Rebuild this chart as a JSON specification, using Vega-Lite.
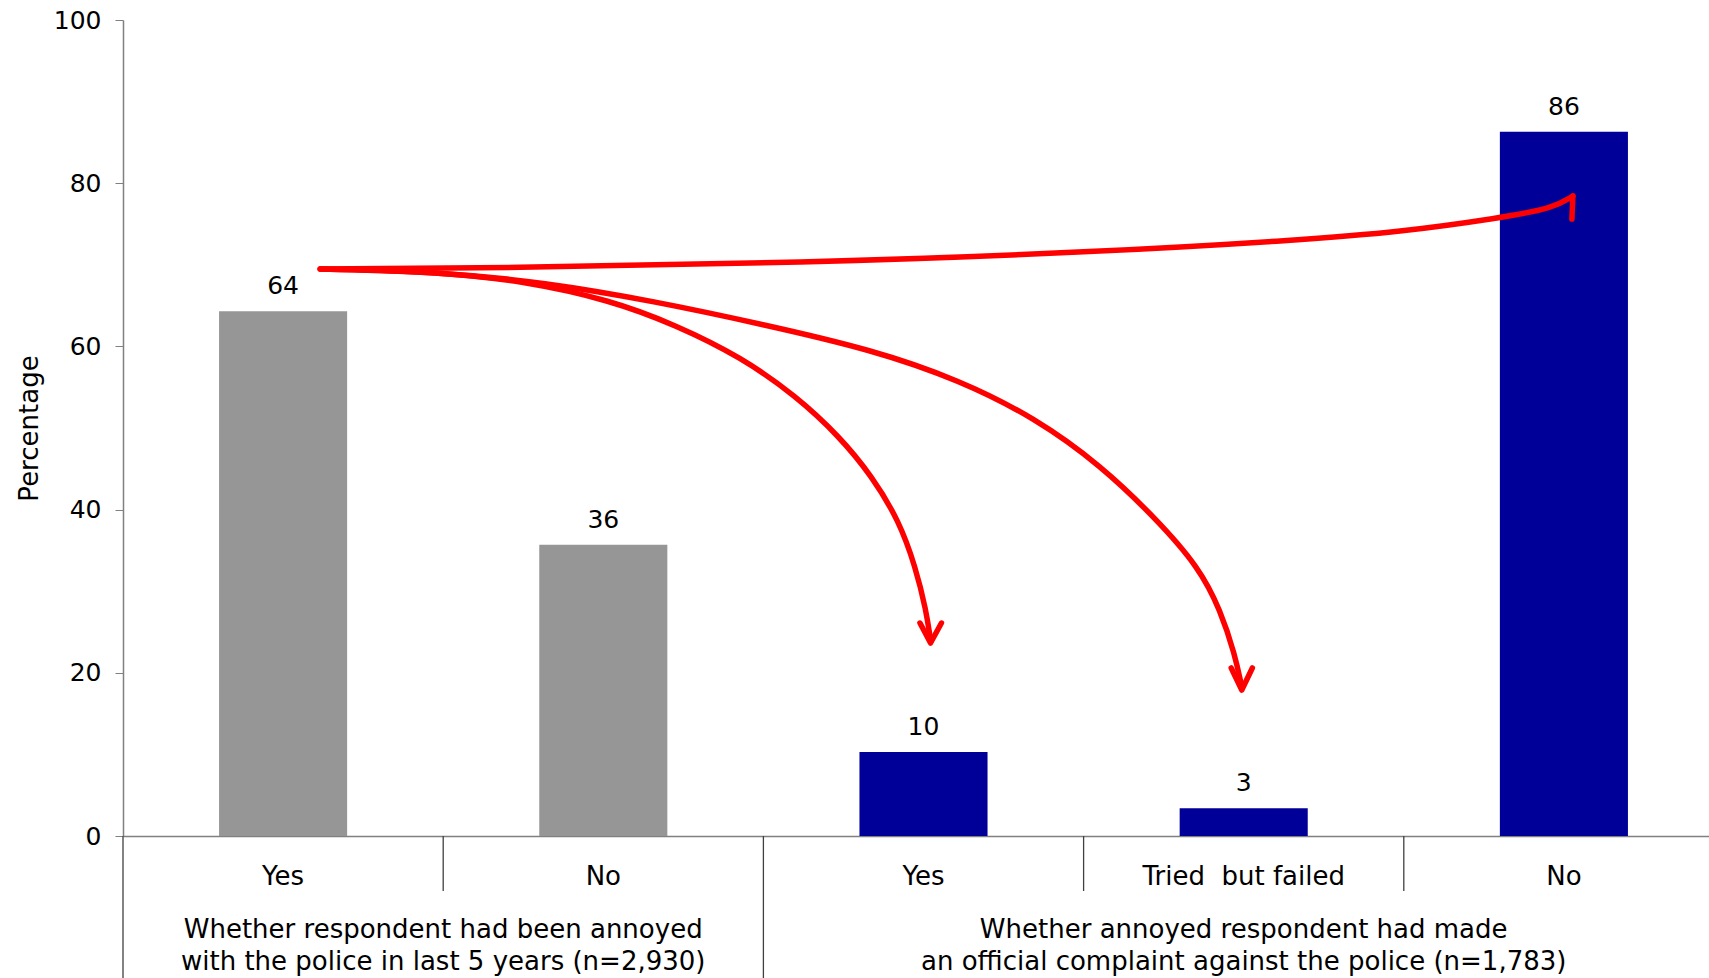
{
  "$schema": "https://vega.github.io/schema/vega-lite/v6.json",
  "width": 1586,
  "height": 816,
  "autosize": {"type": "none"},
  "padding": {"left": 123, "top": 20, "right": 0, "bottom": 142},
  "background": "white",
  "config": {
    "view": {"stroke": null},
    "font": "DejaVu Sans",
    "axis": {"grid": false}
  },
  "datasets": {
    "bars": [
      {"cat": "A|Yes", "group": "annoyed", "value": 64.3},
      {"cat": "A|No", "group": "annoyed", "value": 35.7},
      {"cat": "B|Yes", "group": "complaint", "value": 10.3},
      {"cat": "B|Tried\u00a0 but failed", "group": "complaint", "value": 3.4},
      {"cat": "B|No", "group": "complaint", "value": 86.3}
    ],
    "curves": [
      {"path": "toNo", "i": 0, "pos": 0.616, "value": 69.49},
      {"path": "toNo", "i": 1, "pos": 1.178, "value": 69.61},
      {"path": "toNo", "i": 2, "pos": 2.115, "value": 70.22},
      {"path": "toNo", "i": 3, "pos": 3.051, "value": 71.57},
      {"path": "toNo", "i": 4, "pos": 3.676, "value": 73.04},
      {"path": "toNo", "i": 5, "pos": 3.988, "value": 74.02},
      {"path": "toNo", "i": 6, "pos": 4.300, "value": 75.74},
      {"path": "toNo", "i": 7, "pos": 4.466, "value": 76.92},
      {"path": "toNo", "i": 8, "pos": 4.528, "value": 78.43},
      {"path": "toYes", "i": 0, "pos": 0.616, "value": 69.49},
      {"path": "toYes", "i": 1, "pos": 0.978, "value": 69.18},
      {"path": "toYes", "i": 2, "pos": 1.250, "value": 68.01},
      {"path": "toYes", "i": 3, "pos": 1.521, "value": 65.69},
      {"path": "toYes", "i": 4, "pos": 1.727, "value": 62.62},
      {"path": "toYes", "i": 5, "pos": 1.930, "value": 58.70},
      {"path": "toYes", "i": 6, "pos": 2.102, "value": 53.92},
      {"path": "toYes", "i": 7, "pos": 2.236, "value": 49.02},
      {"path": "toYes", "i": 8, "pos": 2.339, "value": 44.12},
      {"path": "toYes", "i": 9, "pos": 2.424, "value": 38.60},
      {"path": "toYes", "i": 10, "pos": 2.475, "value": 32.97},
      {"path": "toYes", "i": 11, "pos": 2.508, "value": 27.70},
      {"path": "toYes", "i": 12, "pos": 2.522, "value": 24.02},
      {"path": "toTried", "i": 0, "pos": 0.616, "value": 69.49},
      {"path": "toTried", "i": 1, "pos": 0.978, "value": 69.18},
      {"path": "toTried", "i": 2, "pos": 1.318, "value": 67.84},
      {"path": "toTried", "i": 3, "pos": 1.658, "value": 65.55},
      {"path": "toTried", "i": 4, "pos": 1.999, "value": 62.70},
      {"path": "toTried", "i": 5, "pos": 2.339, "value": 59.60},
      {"path": "toTried", "i": 6, "pos": 2.611, "value": 55.90},
      {"path": "toTried", "i": 7, "pos": 2.850, "value": 51.20},
      {"path": "toTried", "i": 8, "pos": 3.054, "value": 45.40},
      {"path": "toTried", "i": 9, "pos": 3.224, "value": 38.98},
      {"path": "toTried", "i": 10, "pos": 3.360, "value": 32.97},
      {"path": "toTried", "i": 11, "pos": 3.428, "value": 27.62},
      {"path": "toTried", "i": 12, "pos": 3.472, "value": 22.28},
      {"path": "toTried", "i": 13, "pos": 3.494, "value": 18.30}
    ],
    "heads": [
      {"path": "headNo", "i": 0, "pos": 4.528, "value": 78.43},
      {"path": "headNo", "i": 1, "pos": 4.525, "value": 75.61},
      {"path": "headYes", "i": 0, "pos": 2.489, "value": 26.10},
      {"path": "headYes", "i": 1, "pos": 2.522, "value": 23.65},
      {"path": "headYes", "i": 2, "pos": 2.556, "value": 26.10},
      {"path": "headTried", "i": 0, "pos": 3.461, "value": 20.59},
      {"path": "headTried", "i": 1, "pos": 3.494, "value": 17.89},
      {"path": "headTried", "i": 2, "pos": 3.527, "value": 20.59}
    ],
    "separators": [
      {"kind": "inner", "pos": 1, "value": 0, "value2": -6.74},
      {"kind": "inner", "pos": 3, "value": 0, "value2": -6.74},
      {"kind": "inner", "pos": 4, "value": 0, "value2": -6.74},
      {"kind": "outer", "pos": 0, "value": 0, "value2": -17.6},
      {"kind": "outer", "pos": 2, "value": 0, "value2": -17.6}
    ],
    "groupLabels": [
      {"pos": 1, "value": -11.52, "text": "Whether respondent had been annoyed"},
      {"pos": 1, "value": -15.44, "text": "with the police in last 5 years (n=2,930)"},
      {"pos": 3.5, "value": -11.52, "text": "Whether annoyed respondent had made"},
      {"pos": 3.5, "value": -15.44, "text": "an official complaint against the police (n=1,783)"}
    ]
  },
  "layer": [
    {
      "data": {"name": "bars"},
      "encoding": {
        "x": {
          "field": "cat",
          "type": "nominal",
          "sort": null,
          "scale": {"range": [0, 1601], "paddingInner": 0.6, "paddingOuter": 0.3},
          "axis": {
            "title": null,
            "ticks": false,
            "labelAngle": 0,
            "labelFontSize": 26,
            "labelLimit": 0,
            "labelColor": "black",
            "labelPadding": 27,
            "domainColor": "#808080",
            "domainWidth": 1.5,
            "labelExpr": "split(datum.value, '|')[1]"
          }
        },
        "y": {
          "field": "value",
          "type": "quantitative",
          "scale": {"domain": [0, 100], "nice": false},
          "axis": {
            "title": "Percentage",
            "values": [0, 20, 40, 60, 80, 100],
            "tickSize": 8,
            "tickColor": "#808080",
            "domainColor": "#808080",
            "domainWidth": 1.5,
            "labelFontSize": 25,
            "labelColor": "black",
            "labelPadding": 14,
            "titleFontSize": 26,
            "titleFontWeight": "normal",
            "titleColor": "black",
            "titlePadding": 11
          }
        }
      },
      "layer": [
        {
          "mark": {"type": "bar"},
          "encoding": {
            "color": {
              "field": "group",
              "type": "nominal",
              "scale": {"domain": ["annoyed", "complaint"], "range": ["#969696", "#000099"]},
              "legend": null
            }
          }
        },
        {
          "mark": {"type": "text", "baseline": "alphabetic", "dy": -17, "fontSize": 25, "color": "black"},
          "encoding": {
            "text": {"field": "value", "type": "quantitative", "format": ".0f"}
          }
        }
      ]
    },
    {
      "encoding": {
        "x": {
          "field": "pos",
          "type": "quantitative",
          "scale": {"domain": [0, 5], "range": [0, 1601], "nice": false, "zero": false},
          "axis": null
        },
        "y": {
          "field": "value",
          "type": "quantitative",
          "scale": {"domain": [0, 100], "nice": false}
        }
      },
      "layer": [
        {
          "data": {"name": "separators"},
          "mark": {"type": "rule", "color": "#404040", "strokeWidth": 1.3},
          "encoding": {
            "y2": {"field": "value2"}
          }
        },
        {
          "data": {"name": "groupLabels"},
          "mark": {"type": "text", "baseline": "middle", "align": "center", "fontSize": 26, "color": "black"},
          "encoding": {
            "text": {"field": "text", "type": "nominal"}
          }
        },
        {
          "data": {"name": "curves"},
          "mark": {"type": "line", "color": "#FF0000", "strokeWidth": 5.5, "strokeCap": "round", "strokeJoin": "round", "interpolate": "basis"},
          "encoding": {
            "detail": {"field": "path", "type": "nominal"},
            "order": {"field": "i", "type": "quantitative"}
          }
        },
        {
          "data": {"name": "heads"},
          "mark": {"type": "line", "color": "#FF0000", "strokeWidth": 5.5, "strokeCap": "round", "strokeJoin": "round"},
          "encoding": {
            "detail": {"field": "path", "type": "nominal"},
            "order": {"field": "i", "type": "quantitative"}
          }
        }
      ]
    }
  ],
  "resolve": {"scale": {"x": "independent"}}
}
